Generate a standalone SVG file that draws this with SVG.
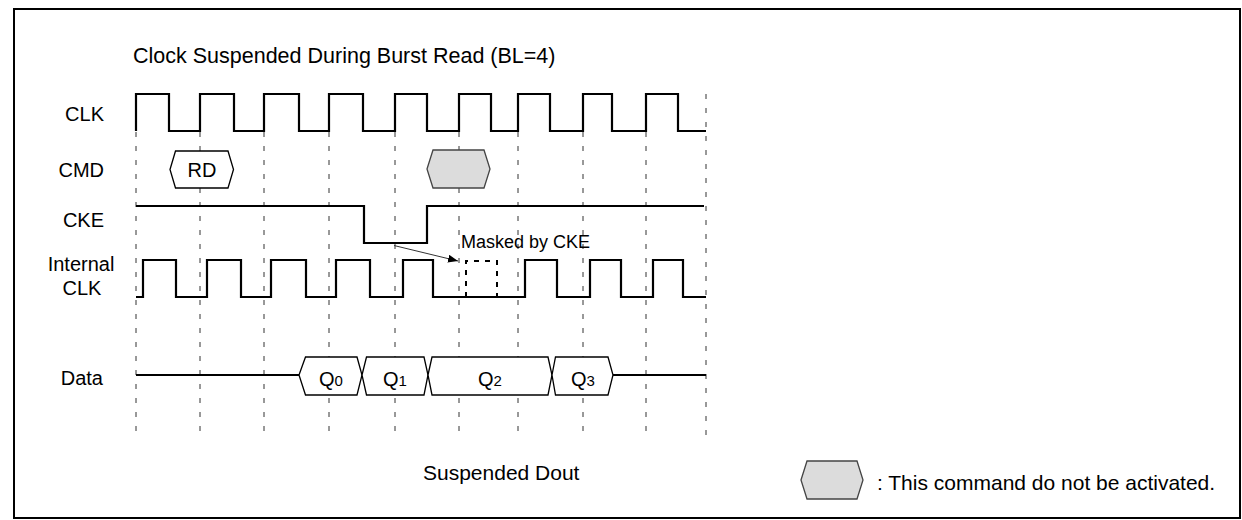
<svg xmlns="http://www.w3.org/2000/svg" width="1242" height="520" viewBox="0 0 1242 520">
<defs>
<style>
text{font-family:"Liberation Sans",Arial,sans-serif;fill:#000}
.lbl{font-size:20px}
.wave{fill:none;stroke:#000;stroke-width:2.2;stroke-linejoin:miter}
.grid{fill:none;stroke:#333;stroke-width:1;stroke-dasharray:5 9}
.hex{fill:#fff;stroke:#000;stroke-width:1.3}
.hexg{fill:#dcdcdc;stroke:#444;stroke-width:1.3}
</style>
<marker id="ah" viewBox="0 0 10 8" refX="10" refY="4" markerWidth="10" markerHeight="8" markerUnits="userSpaceOnUse" orient="auto">
<path d="M0,0 L10,4 L0,8 Z" fill="#000"/>
</marker>
</defs>
<rect width="1242" height="520" fill="#fff"/>
<rect x="14" y="9" width="1226" height="509" fill="none" stroke="#000" stroke-width="2"/>
<text x="133" y="63" style="font-size:21.5px">Clock Suspended During Burst Read (BL=4)</text>
<g id="grid">
<path class="grid" d="M136,132V440M200,132V440M264,132V440M329,132V440M395,132V440M459,132V440M518,132V440M583,132V440M646,132V440M706,94V440"/>
</g>
<g id="clk">
<text class="lbl" x="104" y="121" text-anchor="end">CLK</text>
<path class="wave" d="M136,131V94H169V131H200V94H234V131H264V94H299V131H329V94H363V131H395V94H427V131H459V94H491V131H518V94H550V131H583V94H612V131H646V94H678V131H706"/>
</g>
<g id="cmd">
<text class="lbl" x="104" y="177" text-anchor="end">CMD</text>
<polygon class="hex" points="170,169.5 175.5,151 228,151 233.5,169.5 228,188 175.5,188"/>
<text class="lbl" x="202" y="177" text-anchor="middle">RD</text>
<polygon class="hexg" points="427,169 433,150 484,150 490,169 484,188 433,188"/>
</g>
<g id="cke">
<text class="lbl" x="104" y="227" text-anchor="end">CKE</text>
<path class="wave" d="M136,206H364V243H427V206H704"/>
</g>
<g id="iclk">
<text class="lbl" x="81" y="271" text-anchor="middle">Internal</text>
<text class="lbl" x="82" y="295" text-anchor="middle">CLK</text>
<path class="wave" d="M136,297H143V260H176V297H207V260H241V297H271V260H306V297H336V260H370V297H403V260H433V297H525V260H557V297H590V260H621V297H653V260H683V297H706"/>
<path d="M466,297V261H497V297" fill="none" stroke="#000" stroke-width="2" stroke-dasharray="5 6"/>
<text x="461" y="248" style="font-size:18px">Masked by CKE</text>
</g>
<g id="data">
<text class="lbl" x="103" y="385" text-anchor="end">Data</text>
<path class="wave" d="M136,375H299M613,375H706"/>
<polygon class="hex" points="299,375 305.5,357 357,357 362,375 357,395 305.5,395"/>
<polygon class="hex" points="362,375 366.5,357 424,357 428,375 424,395 366.5,395"/>
<polygon class="hex" points="428,375 432,357 548,357 552,375 548,395 432,395"/>
<polygon class="hex" points="552,375 555.5,357 608,357 613,375 608,395 555.5,395"/>
<text class="lbl" x="331" y="386" text-anchor="middle">Q<tspan style="font-size:15px">0</tspan></text>
<text class="lbl" x="395" y="386" text-anchor="middle">Q<tspan style="font-size:15px">1</tspan></text>
<text class="lbl" x="490" y="386" text-anchor="middle">Q<tspan style="font-size:15px">2</tspan></text>
<text class="lbl" x="583" y="386" text-anchor="middle">Q<tspan style="font-size:15px">3</tspan></text>
</g>
<g id="connectors">
<line x1="394" y1="245.5" x2="458" y2="261" stroke="#333" stroke-width="1" marker-end="url(#ah)"/>
</g>
<text x="423" y="480" style="font-size:21px">Suspended Dout</text>
<g id="legend">
<polygon class="hexg" points="801,480 807,461 857,461 863,480 857,499 807,499"/>
<text x="877" y="490" style="font-size:21px">: This command do not be activated.</text>
</g>
</svg>
